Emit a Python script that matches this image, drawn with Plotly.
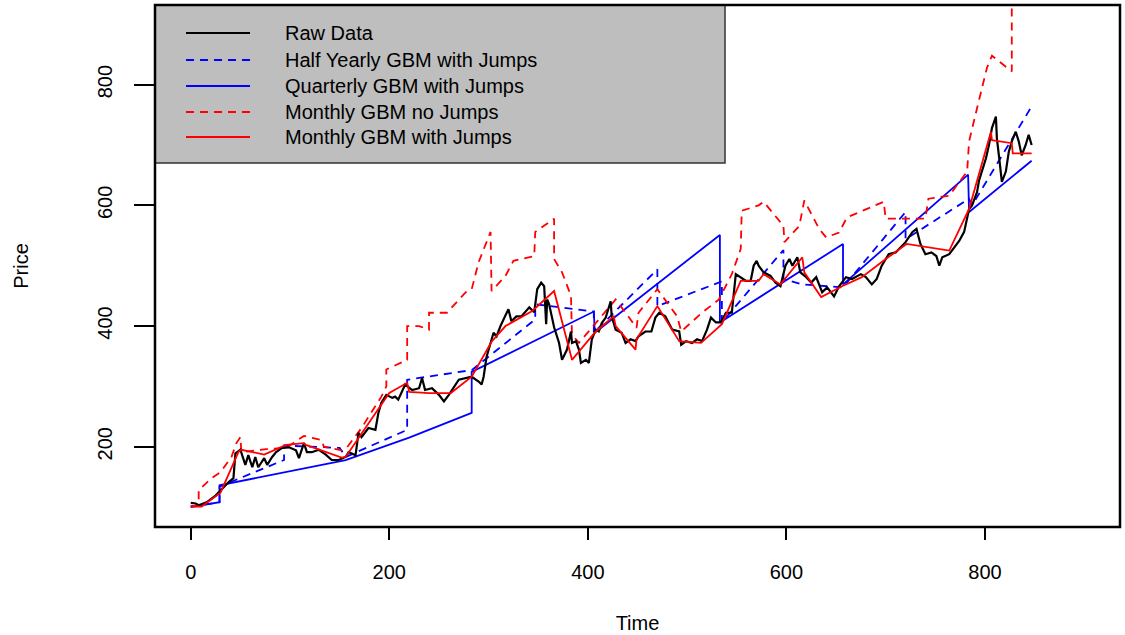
import plotly.graph_objects as go

# ---------------- data ----------------
raw_time = [0,5,8,16,25,30,38,43,45,50,
            55,58,62,65,68,74,77,82,86,92,
            99,106,109,114,117,122,129,136,142,149,
            156,159,166,169,172,179,186,189,192,197,
            203,206,209,216,223,230,233,236,243,250,
            255,260,270,283,290,293,295,298,305,308,
            312,320,323,328,333,341,346,349,353,356,
            358,359,361,366,371,374,379,383,384,388,
            391,393,398,401,404,408,411,414,418,423,
            424,428,434,438,443,448,451,458,464,468,
            472,478,485,492,494,499,505,510,515,520,
            524,529,534,539,545,549,554,559,564,567,
            570,572,577,584,589,594,599,603,606,611,
            614,620,625,630,636,641,648,653,660,666,
            675,680,686,691,696,703,710,715,720,727,
            731,735,740,746,751,754,757,764,769,774,
            779,784,787,792,794,797,801,804,807,811,
            812,814,817,821,824,827,831,834,837,841,
            844,847]
raw_price = [107,106,103,108,119,128,141,148,189,195,
             170,186,166,183,166,181,170,183,191,198,
             199,194,181,206,191,191,195,187,178,178,
             183,191,186,223,216,231,228,256,273,286,
             281,283,278,303,294,297,314,294,297,286,
             275,286,311,316,308,303,316,349,389,383,
             400,428,408,416,416,431,423,461,472,466,
             403,444,436,398,372,344,361,391,372,375,
             361,339,344,339,378,394,391,405,414,441,
             416,394,389,372,378,375,383,391,391,414,
             422,416,394,391,369,375,372,378,375,394,
             414,406,406,422,422,486,481,475,475,500,
             508,500,489,483,472,466,500,511,500,514,
             489,481,472,481,456,464,449,466,481,478,
             486,481,469,478,500,519,522,531,539,556,
             561,536,519,522,516,500,514,519,531,541,
             556,594,600,622,641,656,678,700,728,747,
             711,683,639,656,689,706,722,706,683,700,
             717,700]

half_time = [0,29,29,94,94,150,156,218,218,283,
             347,347,406,406,470,470,535,535,597,597,
             616,657,720,720,784,787,847]
half_price = [101,108,134,178,202,198,183,228,311,327,
              411,436,424,389,494,433,474,406,526,478,
              469,464,589,544,611,600,764]

quart_time = [0,29,29,156,220,283,283,406,407,533,533,657,657,783,784,847]
quart_price = [100,108,136,178,215,256,324,424,389,551,406,536,469,651,589,674]

mnj_time = [0,8,8,21,30,41,46,50,51,76,
            96,114,132,134,152,157,172,192,197,197,
            218,218,230,240,240,258,277,283,290,295,
            302,303,317,325,346,347,366,366,374,383,
            384,391,428,438,449,451,470,490,494,515,
            532,545,554,555,572,577,597,598,613,618,
            633,640,653,661,676,698,700,740,743,764,
            782,784,792,802,807,827,827]
mnj_price = [101,103,128,148,158,183,206,216,191,196,
             198,218,211,200,194,198,231,283,300,328,
             344,400,400,394,422,422,456,461,506,528,
             556,458,483,508,516,556,578,511,489,450,
             386,372,444,422,397,422,461,416,391,422,
             444,486,528,591,600,606,566,539,566,608,
             561,547,555,580,591,606,578,578,611,616,
             656,706,761,828,848,822,1000]

mj_time = [0,11,30,48,51,74,96,114,116,152,
           156,200,218,220,240,262,283,303,317,344,
           366,384,408,426,428,448,449,470,492,514,
           535,554,572,577,594,616,618,635,656,676,
           700,721,764,784,806,807,827,828,847]
mj_price = [101,101,124,191,195,187,203,206,203,182,
            183,289,306,291,289,289,316,374,400,425,
            458,344,391,416,400,361,378,433,375,372,
            403,475,475,486,469,514,489,448,466,481,
            511,536,525,594,722,708,703,686,686]

x_ticks = [0, 200, 400, 600, 800]
y_ticks = [200, 400, 600, 800]

legend_labels = ["Raw Data", "Half Yearly GBM with Jumps", "Quarterly GBM with Jumps",
                 "Monthly GBM no Jumps", "Monthly GBM with Jumps"]

# ---------------- styles ----------------
FONT = "Liberation Sans, Arial, Helvetica, sans-serif"
BLUE = "#0000FF"
RED = "#FF0000"
DASH = "8px,6px"
styles = [
    dict(color="black", width=2.2, dash="solid"),
    dict(color=BLUE, width=1.8, dash=DASH),
    dict(color=BLUE, width=1.8, dash="solid"),
    dict(color=RED, width=1.8, dash=DASH),
    dict(color=RED, width=1.8, dash="solid"),
]

series = [
    (raw_time, raw_price),
    (half_time, half_price),
    (quart_time, quart_price),
    (mnj_time, mnj_price),
    (mj_time, mj_price),
]

fig = go.Figure()
order = [2, 1, 3, 0, 4]
for i in order:
    t, p = series[i]
    assert len(t) == len(p), legend_labels[i]
    fig.add_trace(go.Scatter(x=t, y=p, mode="lines", name=legend_labels[i],
                             line=styles[i], showlegend=False))

W, H = 1125, 635
ML, MR, MT, MB = 155, 5, 5, 108
PW, PH = W - ML - MR, H - MT - MB

def px_x(px):
    return (px - ML) / PW

def px_y(py):
    return (H - MB - py) / PH

shapes = []
annotations = []
shapes.append(dict(type="rect", xref="paper", yref="paper",
                   x0=px_x(155), x1=px_x(725), y0=px_y(163), y1=px_y(5),
                   fillcolor="#BEBEBE", line=dict(color="#333333", width=1.5), layer="above"))
row_y = [33, 60, 86, 112, 137]
for k, lab in enumerate(legend_labels):
    st = styles[k]
    shapes.append(dict(type="line", xref="paper", yref="paper",
                       x0=px_x(186), x1=px_x(250), y0=px_y(row_y[k]), y1=px_y(row_y[k]),
                       line=dict(color=st["color"], width=min(st["width"], 1.8), dash=st["dash"]),
                       layer="above"))
    annotations.append(dict(xref="paper", yref="paper", x=px_x(283), y=px_y(row_y[k]),
                            text=lab, showarrow=False, xanchor="left", yanchor="middle",
                            font=dict(family=FONT, size=20, color="black")))
shapes.append(dict(type="rect", xref="paper", yref="paper", x0=0, x1=1, y0=0, y1=1,
                   line=dict(color="black", width=2.5), layer="above"))

fig.update_layout(
    width=W, height=H,
    margin=dict(l=ML, r=MR, t=MT, b=MB),
    paper_bgcolor="white", plot_bgcolor="white",
    font=dict(family=FONT, size=20, color="black"),
    shapes=shapes, annotations=annotations,
    showlegend=False,
    xaxis=dict(range=[-36, 936], tickvals=x_ticks, ticks="outside", ticklen=12,
               tickwidth=2, tickcolor="black", showgrid=False, zeroline=False,
               showline=False, tickfont=dict(size=20), ticklabelstandoff=15,
               title=dict(text="Time", font=dict(size=20), standoff=33)),
    yaxis=dict(range=[67, 932], tickvals=y_ticks, ticks="outside", ticklen=20,
               tickwidth=2, tickcolor="black", showgrid=False, zeroline=False,
               showline=False, tickangle=-90, tickfont=dict(size=20), ticklabelstandoff=14,
               title=dict(text="Price", font=dict(size=20), standoff=60)),
)

fig.write_html("out.html")
